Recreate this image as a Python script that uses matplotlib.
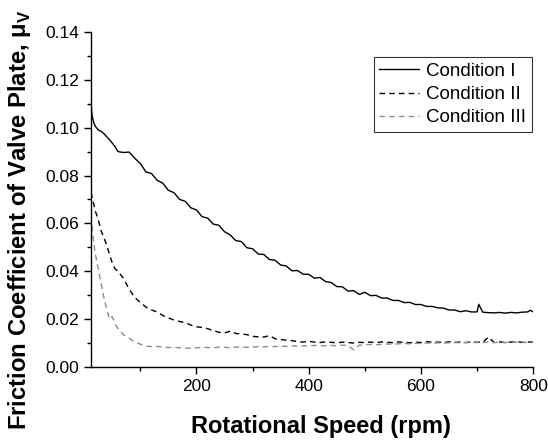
import matplotlib
matplotlib.use("Agg")
import matplotlib.pyplot as plt
from matplotlib.ticker import MultipleLocator

plt.rcParams['font.family'] = ['Liberation Sans', 'DejaVu Sans']
plt.rcParams['mathtext.fontset'] = 'custom'
plt.rcParams['mathtext.rm'] = 'Liberation Sans'
plt.rcParams['mathtext.bf'] = 'Liberation Sans:bold'

# rotational speed (rpm), shared by the three curves
speed = [12, 14, 17, 20, 25, 30, 35, 40, 45, 50, 55, 60, 70, 80, 90,
         100, 110, 120, 130, 140, 150, 160, 170, 180, 190,
         200, 210, 220, 230, 240, 250, 260, 270, 280, 290,
         300, 310, 320, 330, 340, 350, 360, 370, 380, 390,
         400, 410, 420, 430, 440, 450, 460, 470, 480, 490,
         500, 510, 520, 530, 540, 550, 560, 570, 580, 590,
         600, 610, 620, 630, 640, 650, 660, 670, 680, 690,
         700, 703, 710, 720, 730, 740, 750, 760, 770, 780, 790, 795, 800]

cond1 = [0.110, 0.105, 0.102, 0.1005, 0.0990, 0.0985, 0.0975, 0.0962, 0.0950, 0.0935, 0.0920, 0.0900, 0.0896, 0.0898, 0.0872,
         0.0850, 0.0815, 0.0808, 0.0780, 0.0768, 0.0738, 0.0728, 0.0700, 0.0692, 0.0665,
         0.0656, 0.0628, 0.0622, 0.0597, 0.0592, 0.0565, 0.0552, 0.0528, 0.0524, 0.0498,
         0.0494, 0.0472, 0.0470, 0.0449, 0.0446, 0.0426, 0.0422, 0.0402, 0.0403, 0.0388,
         0.0387, 0.0371, 0.0374, 0.0357, 0.0353, 0.0336, 0.0335, 0.0317, 0.0319, 0.0303,
         0.0312, 0.0298, 0.0299, 0.0288, 0.0288, 0.0278, 0.0278, 0.0269, 0.0270, 0.0261,
         0.0261, 0.0253, 0.0253, 0.0247, 0.0246, 0.0238, 0.0238, 0.0231, 0.0235, 0.0230,
         0.0230, 0.0262, 0.0229, 0.0227, 0.0226, 0.0228, 0.0225, 0.0228, 0.0226, 0.0229, 0.0230, 0.0237, 0.0230]

cond2 = [0.0730, 0.0710, 0.0680, 0.0650, 0.0615, 0.0570, 0.0540, 0.0510, 0.0470, 0.0435, 0.0410, 0.0400, 0.0370, 0.0325, 0.0290,
         0.0270, 0.0250, 0.0238, 0.0230, 0.0215, 0.0205, 0.0196, 0.0190, 0.0185, 0.0175,
         0.0168, 0.0165, 0.0160, 0.0152, 0.0145, 0.0142, 0.0150, 0.0140, 0.0138, 0.0135,
         0.0128, 0.0126, 0.0125, 0.0131, 0.0118, 0.0115, 0.0112, 0.0110, 0.0106, 0.0104,
         0.0107, 0.0104, 0.0102, 0.0105, 0.0103, 0.0101, 0.0104, 0.0102, 0.0100, 0.0103,
         0.0102, 0.0104, 0.0101, 0.0105, 0.0103, 0.0102, 0.0105, 0.0103, 0.0101, 0.0104,
         0.0102, 0.0106, 0.0103, 0.0104, 0.0102, 0.0105, 0.0103, 0.0104, 0.0102, 0.0105,
         0.0103, 0.0104, 0.0102, 0.0125, 0.0103, 0.0105, 0.0102, 0.0104, 0.0106, 0.0103, 0.0105, 0.0104, 0.0104]

cond3 = [0.0630, 0.0580, 0.0520, 0.0470, 0.0410, 0.0350, 0.0290, 0.0240, 0.0200, 0.0210, 0.0180, 0.0160, 0.0135, 0.0120, 0.0105,
         0.0095, 0.0088, 0.0085, 0.0086, 0.0083, 0.0081, 0.0082, 0.0080, 0.0079, 0.0078,
         0.0080, 0.0082, 0.0081, 0.0080, 0.0083, 0.0082, 0.0081, 0.0083, 0.0084, 0.0082,
         0.0083, 0.0085, 0.0084, 0.0086, 0.0085, 0.0087, 0.0086, 0.0088, 0.0087, 0.0089,
         0.0088, 0.0090, 0.0089, 0.0088, 0.0090, 0.0089, 0.0091, 0.0090, 0.0072, 0.0091,
         0.0093, 0.0094, 0.0093, 0.0095, 0.0096, 0.0095, 0.0097, 0.0098, 0.0097, 0.0099,
         0.0098, 0.0100, 0.0099, 0.0101, 0.0100, 0.0101, 0.0102, 0.0101, 0.0102, 0.0103,
         0.0102, 0.0103, 0.0102, 0.0104, 0.0102, 0.0103, 0.0102, 0.0103, 0.0104, 0.0102, 0.0103, 0.0103, 0.0103]

labels = ["Condition I", "Condition II", "Condition III"]

fig = plt.figure(figsize=(5.48, 4.43), dpi=100)
ax = fig.add_axes([0.166, 0.1716, 0.807, 0.7564])

ax.plot(speed, cond1, color='black', lw=1.0, ls='-', label=labels[0])
ax.plot(speed, cond2, color='black', lw=1.0, ls=(0, (4, 3)), label=labels[1])
ax.plot(speed, cond3, color='#8c8c8c', lw=1.0, ls=(0, (4, 3)), label=labels[2])

ax.set_xlim(12, 800)
ax.set_ylim(0, 0.14)
ax.xaxis.set_major_locator(MultipleLocator(200))
ax.xaxis.set_minor_locator(MultipleLocator(100))
ax.yaxis.set_major_locator(MultipleLocator(0.02))
ax.yaxis.set_minor_locator(MultipleLocator(0.01))
ax.yaxis.set_major_formatter(plt.FormatStrFormatter('%.2f'))

for s in ['top', 'right']:
    ax.spines[s].set_visible(False)
for s in ['left', 'bottom']:
    ax.spines[s].set_linewidth(1.0)

ax.tick_params(which='major', direction='out', length=5, width=1, labelsize=12.5)
ax.tick_params(which='minor', direction='out', length=3, width=1)

ax.set_xlabel("Rotational Speed (rpm)", fontsize=17, fontweight='bold')
ax.xaxis.set_label_coords(0.52, -0.142)
ax.set_ylabel(r"Friction Coefficient of Valve Plate, μ$_{\mathbf{V}}$", fontsize=17.2,
              fontweight='bold')
ax.yaxis.set_label_coords(-0.13, 0.44)

leg = ax.legend(loc='upper right', bbox_to_anchor=(0.997, 0.925), fontsize=13.5,
                frameon=True, fancybox=False, edgecolor='black', handlelength=2.1,
                borderpad=0.3, labelspacing=0.33, handletextpad=0.4, borderaxespad=0)
leg.get_frame().set_linewidth(0.8)

fig.savefig("out.png", dpi=100)
